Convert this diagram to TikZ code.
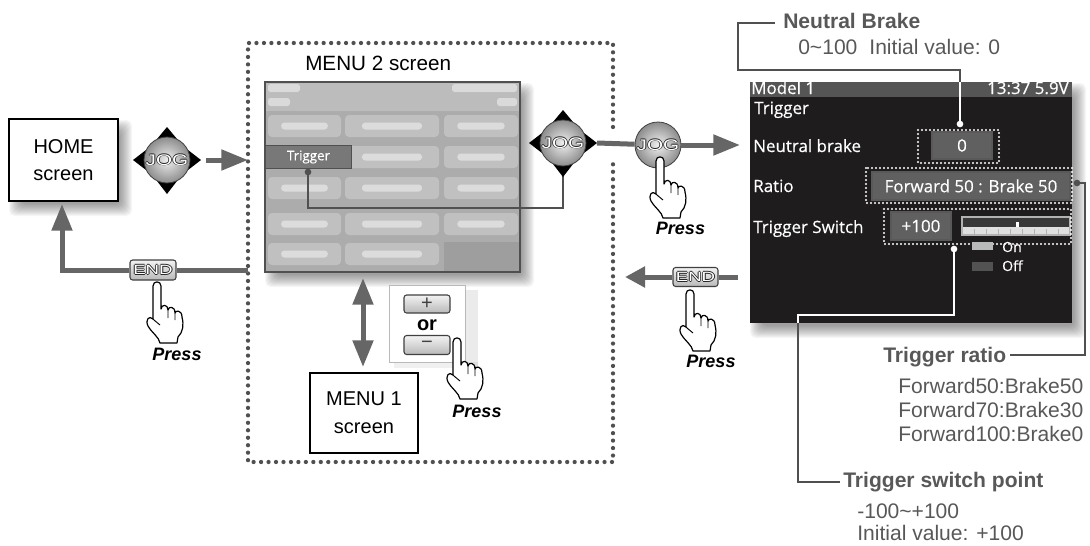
\documentclass[tikz,border=0pt]{standalone}
\usepackage{fontspec}
\usepackage{graphicx}
\setmainfont{Liberation Sans}
\newfontfamily\lcdfont[FakeBold=0.4]{Open Sans}
\usetikzlibrary{arrows.meta}

\definecolor{flowgray}{RGB}{102,102,102}
\definecolor{leadgray}{RGB}{80,80,80}
\definecolor{labelgray}{RGB}{88,88,88}
\definecolor{lcdblack}{RGB}{30,28,29}
\definecolor{lcdbar}{RGB}{85,85,85}
\definecolor{lcdfield}{RGB}{96,96,96}
\definecolor{menubg}{RGB}{172,172,172}
\definecolor{menuhead}{RGB}{188,188,188}
\definecolor{menucell}{RGB}{198,198,198}
\definecolor{menusel}{RGB}{120,120,120}

% white letters with a thin dark rim, as printed on the keys
\newcommand\keycaptext[1]{%
  \rlap{\kern-0.45pt\textcolor{black!85}{#1}}%
  \rlap{\kern0.45pt\textcolor{black!85}{#1}}%
  \rlap{\raisebox{0.45pt}{\textcolor{black!85}{#1}}}%
  \rlap{\raisebox{-0.45pt}{\textcolor{black!85}{#1}}}%
  \textcolor{white}{#1}}
\newcommand\keyJOG{\scalebox{1.35}[1]{\keycaptext{JOG}}}
\newcommand\keyEND{\scalebox{1.4}[1]{\keycaptext{END}}}

% soft shadow below and right of a rectangle x1,y1,x2,y2
\newcommand\softshadow[4]{%
  \foreach \e in {-5,...,7}{%
    \fill[black,opacity=0.035,rounded corners=4pt]
      ({#1+7-\e},{#2+8-\e}) rectangle ({#3+7+\e},{#4+8+\e});}}

\tikzset{
  jogknob/.style={circle,inner sep=0,minimum size=34.5pt,draw=black!75,line width=0.6pt,
    inner color=gray!12,outer color=black!45,
    font=\fontsize{11.5}{11.5}\selectfont},
  jogpad/.pic={
    \fill (0,-33) -- (-10,-21) -- (10,-21) -- cycle;
    \fill (0,34) -- (-10,21) -- (10,21) -- cycle;
    \fill (-34,0) -- (-21,-10) -- (-21,10) -- cycle;
    \fill (34,0) -- (21,-10) -- (21,10) -- cycle;
    \node[jogknob] (-b) at (0,0) {\keyJOG};
    \coordinate (-r) at (34,0);
    \coordinate (-d) at (0,34);
  },
  hand/.pic={
    \filldraw[fill=white,draw=black,line width=0.9pt,line join=round]
      (-4,30) -- (-4,4) .. controls (-4,-1.5) and (4,-1.5) .. (4,4) -- (4,27)
      .. controls (4.5,22) and (11,22) .. (11,28)
      .. controls (11.5,24) and (18,24) .. (18,31)
      .. controls (18.5,28) and (25,28) .. (25,35)
      .. controls (27,43) and (26,50) .. (21,55)
      -- (20,61) -- (3,61)
      .. controls (2,55) and (-5,51) .. (-9,44)
      .. controls (-12,38) and (-8,33) .. (-4,37) -- cycle;
    \draw[line width=0.7pt] (11,28) -- (11,36) (18,31) -- (18,38)
      (-4,37) .. controls (-1,40) and (1,41) .. (3,43);
  },
}

\begin{document}
\begin{tikzpicture}[x=0.75pt,y=-0.75pt,
  flow/.style={draw=flowgray,line width=3.75pt},
  flowtip/.style={-{Triangle[length=20pt,width=15pt]}},
  lead/.style={draw=leadgray,line width=1.3pt},
  lcdlead/.style={draw=white,line width=1.3pt},
  screenbox/.style={draw=black,line width=1pt,fill=white,align=center,
    font=\fontsize{15}{20}\selectfont,inner sep=0},
  lbl/.style={text=labelgray,font=\fontsize{15.8}{19}\selectfont,inner sep=0,anchor=base west},
  lblhead/.style={lbl,font=\fontsize{15.8}{19}\selectfont\bfseries},
  presslbl/.style={font=\fontsize{13.5}{16}\selectfont\bfseries\itshape,inner sep=0,anchor=base},
  lcdtext/.style={text=white,font=\lcdfont\fontsize{12.7}{15}\selectfont,inner sep=0,anchor=base west},
  lcdfieldbox/.style={fill=lcdfield,draw=gray!70!black,line width=1pt,text=white,inner sep=0,
    font=\lcdfont\fontsize{12.7}{15}\selectfont},
  lcddots/.style={draw=white,line width=1.7pt,line cap=round,dash pattern=on 0pt off 3pt},
  framedots/.style={draw=leadgray,line width=3.2pt,line cap=round,dash pattern=on 0pt off 5.6pt},
  keycap/.style={draw=black!75,line width=0.8pt,rounded corners=2pt,top color=gray!10,
    bottom color=gray!55,inner sep=0,font=\fontsize{10}{10}\selectfont},
  leaddot/.style={fill=leadgray},
]
\useasboundingbox (0,0) rectangle (1090,546);

% ---------- dotted frame around the MENU 2 page
\draw[framedots] (613,127) -- (613,43) -- (248,43) -- (248,462) -- (613,462) -- (613,162);

% ---------- HOME screen
\softshadow{9}{119}{118}{201}
\node[screenbox,minimum width=81.75pt,minimum height=61.5pt] (home) at (63.5,160) {HOME\\screen};

\pic (jogH) at (167,160) {jogpad};
\coordinate (jogHout) at (206,160);
\coordinate (menuin) at (248,160);
\draw[flow,flowtip] (jogHout) -- (menuin);

% END key back to HOME
\coordinate (menuout) at (248,270);
\coordinate (homein) at (62,204);
\node[keycap,minimum width=34.5pt,minimum height=15pt] (endL) at (153,270) {\keyEND};
\draw[flow] (menuout) -- (endL);
\draw[flow,flowtip] (endL) -| (homein);
\pic (handL) at (157,282) {hand};
\node[presslbl] (pressL) at (177,360) {Press};

% ---------- MENU 2 page
\node[anchor=base west,inner sep=0,font=\fontsize{15.5}{18}\selectfont] (m2title) at (305,70) {MENU 2 screen};
\softshadow{265}{82}{520}{272}
\fill[menubg] (265,82) rectangle (520,272);
\fill[menuhead] (266,83) rectangle (519,111);
\fill[black!38] (444,242) rectangle (519,271);
% blurred header lines
\foreach \xa/\ya/\xb/\yb in {268/84/300/92, 452/84/517/92, 268/98/290/106, 497/98/517/106}
  \fill[white,opacity=0.45,rounded corners=2pt] (\xa,\ya) rectangle (\xb,\yb);
% blurred menu cells
\foreach \xa/\xb/\yc in {268/341/126, 345/439/126, 444/518/126,
                         345/439/157, 444/518/157,
                         268/341/188, 345/439/188, 444/518/188,
                         268/341/224, 345/439/224, 444/518/224,
                         268/341/254, 345/439/254}{
  \fill[menucell,opacity=0.8,rounded corners=3pt] (\xa,\yc-11) rectangle (\xb,\yc+11);
  \fill[white,opacity=0.45,rounded corners=2.5pt] ({\xa+0.18*(\xb-\xa)},\yc-3.5) rectangle ({\xb-0.18*(\xb-\xa)},\yc+3.5);
}
\draw[leadgray,line width=1.3pt] (265,82) rectangle (520,272);
\node[fill=menusel,draw=leadgray,line width=1pt,minimum width=64.5pt,minimum height=17.25pt,
  inner sep=0,text=white,font=\lcdfont\fontsize{10}{10}\selectfont] (trigcell) at (308.5,157) {Trigger};

\coordinate (trigdot) at (308,172);
\draw[lead] (trigdot) |- (563,208) -- (563,175);
\fill[leaddot] (trigdot) circle (2.5pt);
\pic (jogA) at (563,143) {jogpad};

% MENU 1 switch
\node[screenbox,minimum width=81pt,minimum height=60pt,font=\fontsize{15}{21}\selectfont] (menu1) at (364,413) {MENU 1\\screen};
\coordinate (m2bottom) at (363,278);
\coordinate (m1top) at (363,367);
\draw[flow,{Triangle[length=20pt,width=15pt]}-{Triangle[length=20pt,width=15pt]}] (m2bottom) -- (m1top);

\fill[black,opacity=0.08] (465,290) rectangle (478,368);
\fill[black,opacity=0.06] (394,362) rectangle (478,368);
\node[fill=white,draw=gray!55,line width=0.6pt,minimum width=57pt,minimum height=57.75pt,inner sep=0] (pmpanel) at (427,323.5) {};
\node[keycap,minimum width=34.5pt,minimum height=13.5pt,font=\fontsize{15}{15}\selectfont] (plus) at (427,304) {\textcolor{black!75}{+}};
\node[keycap,minimum width=34.5pt,minimum height=14.25pt,font=\fontsize{15}{15}\selectfont] (minus) at (427,345) {\textcolor{black!75}{−}};
\node[anchor=base,inner sep=0,font=\fontsize{15}{16}\selectfont\bfseries] (ortext) at (427,330) {or};
\pic (handM) at (457,338) {hand};
\node[presslbl] (pressM) at (477,417) {Press};

% ---------- to the Trigger page
\node[jogknob] (jogPb) at (658,145) {\keyJOG};
\draw[flow] (jogA-r) -- (jogPb);
\coordinate (lcdin) at (740,145);
\draw[flow,flowtip] (jogPb) -- (lcdin);
\pic (handP) at (660,157) {hand};
\node[presslbl] (pressP) at (680.5,234) {Press};

\coordinate (lcdout) at (738,277);
\coordinate (menuret) at (625,277);
\node[keycap,minimum width=33.75pt,minimum height=14.25pt] (endR) at (695.5,277) {\keyEND};
\draw[flow] (lcdout) -- (endR);
\draw[flow,-{Triangle[length=15pt,width=15pt]}] (endR) -- (menuret);
\pic (handR) at (690,290) {hand};
\node[presslbl] (pressR) at (711,367) {Press};

% ---------- Trigger page (LCD)
\softshadow{750}{82}{1072}{323}
\fill[lcdblack] (750,82) rectangle (1072,323);
\fill[lcdbar] (750,82) rectangle (1072,97);
\node[lcdtext] (lcdmodel) at (751,94) {Model 1};
\node[lcdtext,anchor=base east] (lcdclock) at (1069,94) {13:37 5.9V};
\node[lcdtext] (lcdtitle) at (754,114) {Trigger};
\node[lcdtext] (lcdnb) at (753,152) {Neutral brake};
\node[lcdtext] (lcdratio) at (753,192) {Ratio};
\node[lcdtext] (lcdsw) at (753,233) {Trigger Switch};

\node[lcdfieldbox,minimum width=45pt,minimum height=20.25pt] (nbfield) at (962,145.5) {0};
\draw[lcddots] (918,130) rectangle (999,163);
\node[lcdfieldbox,minimum width=148.5pt,minimum height=21pt] (ratiofield) at (971,186) {Forward 50 : Brake 50};
\draw[lcddots] (866,168) rectangle (1072,203);
\node[lcdfieldbox,minimum width=45pt,minimum height=21pt] (swfield) at (921,226) {+100};
% switch point bar
\fill[black!78] (962,217) rectangle (1070,227);
\fill[gray!25] (962,227) rectangle (1070,235);
\foreach \x in {974,986,...,1062} \draw[gray!60,line width=0.5pt] (\x,229) -- (\x,234);
\draw[gray!60,line width=0.8pt] (962,217) rectangle (1070,235);
\fill[white] (1016,222) rectangle (1019,227);
\draw[lcddots] (884,209) rectangle (1071,244);
% legend
\fill[gray!55] (972,242) rectangle (993,250);
\node[lcdtext,font=\lcdfont\fontsize{10.5}{12}\selectfont] (lgon) at (1002,252) {On};
\fill[black!68] (972,262) rectangle (993,271);
\node[lcdtext,font=\lcdfont\fontsize{10.5}{12}\selectfont] (lgoff) at (1002,271) {Off};

% ---------- leaders and labels
\coordinate (nbdot) at (960,124);
\coordinate (nbedge) at (960,82);
\draw[lcdlead] (nbdot) -- (nbedge);
\draw[lead] (nbedge) -- (960,70) -| (738,23) -- (775,23);
\fill[white] (nbdot) circle (2.5pt);
\node[lblhead] (nbhead) at (783,28) {Neutral Brake};
\node[lbl] (nbrange) at (798,55) {0\textasciitilde100\hspace{9pt}Initial value: 0};

\coordinate (ratiodot) at (1077,183);
\draw[lead] (ratiodot) -- (1085,183) -- (1085,355) -- (1010,355);
\fill[leaddot] (ratiodot) circle (2.5pt);
\node[lblhead] (trhead) at (883,362) {Trigger ratio};
\node[lbl] (tr1) at (898,393) {Forward50:Brake50};
\node[lbl] (tr2) at (898,417) {Forward70:Brake30};
\node[lbl] (tr3) at (898,441) {Forward100:Brake0};

\coordinate (swdot) at (954,249);
\coordinate (swedge) at (798,323);
\draw[lcdlead] (swdot) -- (954,315) -| (swedge);
\draw[lead] (swedge) |- (840,482);
\fill[white] (swdot) circle (2.5pt);
\node[lblhead] (swhead) at (843,487) {Trigger switch point};
\node[lbl] (swrange) at (857,518) {-100\textasciitilde+100};
\node[lbl] (swinit) at (857,540) {Initial value: +100};
\end{tikzpicture}
\end{document}
